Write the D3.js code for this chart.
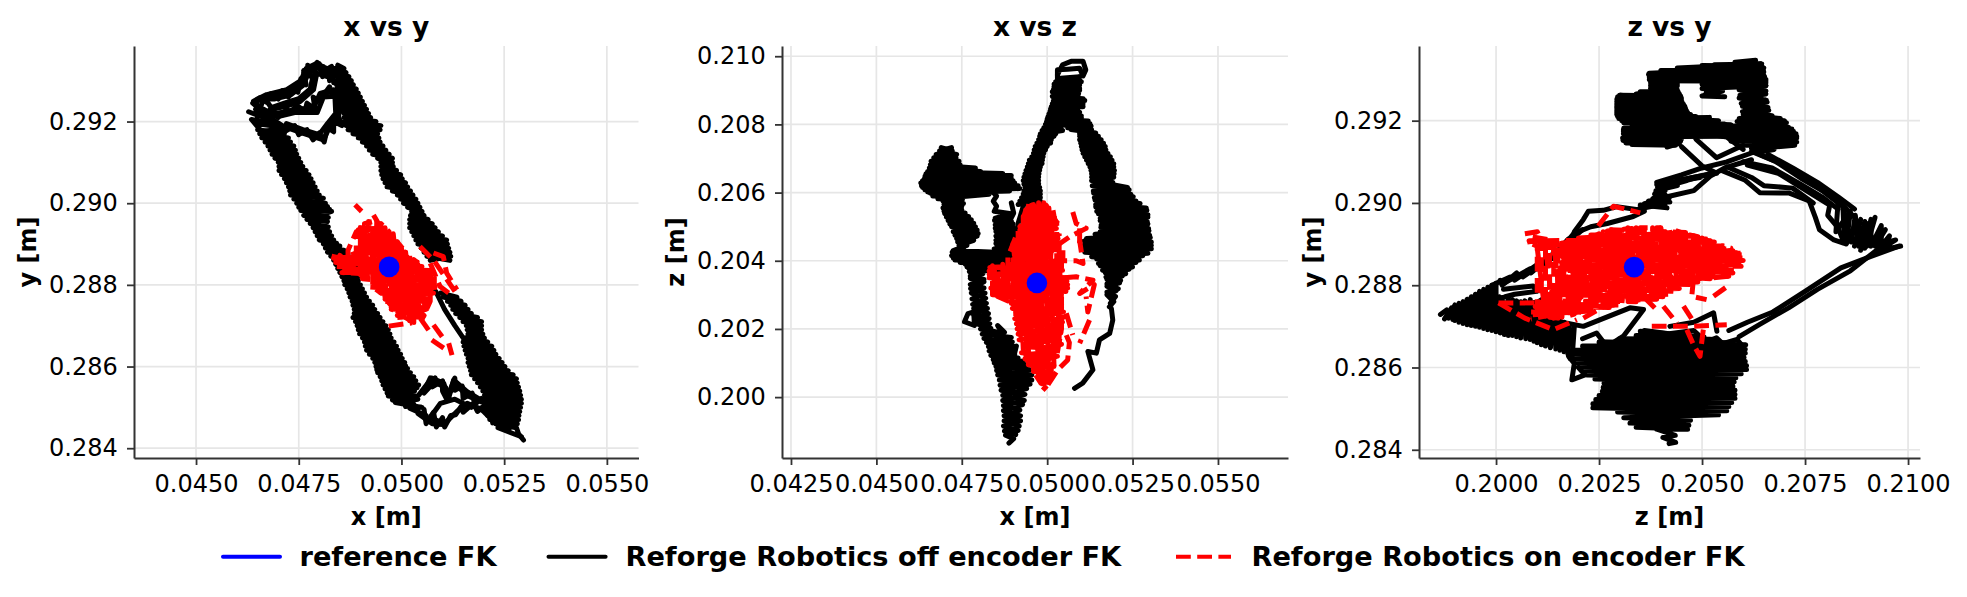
<!DOCTYPE html>
<html><head><meta charset="utf-8">
<script src="https://cdn.jsdelivr.net/npm/d3@7/dist/d3.min.js"></script>
<style>html,body{margin:0;padding:0;background:#fff}svg{display:block}text{font-family:"DejaVu Sans";fill:#000}</style>
</head><body><svg id="c" width="1967" height="597"></svg>
<script>
// Values. Trajectory pieces are in millimetres; axes show metres.
const xTicksA=[0.045,0.0475,0.05,0.0525,0.055];
const yTicksA=[0.284,0.286,0.288,0.29,0.292];
const xTicksB=[0.0425,0.045,0.0475,0.05,0.0525,0.055];
const yTicksB=[0.2,0.202,0.204,0.206,0.208,0.21];
const xTicksC=[0.2,0.2025,0.205,0.2075,0.21];
const yTicksC=[0.284,0.286,0.288,0.29,0.292];
const legendLabels=["reference FK","Reforge Robotics off encoder FK","Reforge Robotics on encoder FK"];
const refPoint=[49.7,288.44,203.35];

// x vs y, encoder off
const xyOff1=[[46.5,291.8],[47.15,291.7],[46.6,291.6],[47.3,291.5],[46.75,291.4],[47.42,291.3],[46.85,291.2],[47.5,291.1],[47,291],[47.6,290.9],[47.02,290.8],[47.75,290.7],[47.15,290.6],[47.85,290.5],[47.25,290.4],[47.95,290.3],[47.3,290.2],[48.1,290.12],[47.45,290],[48.2,289.92],[47.55,289.82],[48.3,289.8],[47.7,289.6],[48.2,289.55],[47.85,289.4],[48.25,289.3],[47.95,289.2],[48.35,289.1],[48.1,289],[48.5,288.95],[48.2,288.8],[48.7,288.75],[48.35,288.6],[48.85,288.55],[48.45,288.4],[48.95,288.3],[48.55,288.2],[48.95,288.1],[48.62,288],[49.05,287.9],[48.72,287.8],[49.15,287.7],[48.8,287.6],[49.3,287.5],[48.85,287.4],[49.42,287.3],[48.82,287.2],[49.55,287.1],[48.92,287],[49.68,286.9],[48.98,286.8],[49.75,286.7],[49.1,286.6],[49.88,286.5],[49.15,286.4],[49.98,286.3],[49.3,286.2],[50.08,286.1],[49.38,286],[50.15,285.95],[49.42,285.85],[50.3,285.75],[49.52,285.65],[50.42,285.55],[49.6,285.45],[50.32,285.4],[49.68,285.28],[50.4,285.2],[49.85,285.12],[50.5,285.0],[50.2,284.98],[50.6,284.8],[50.4,284.85],[50.75,284.6],[51,284.58]];
const xyOff1b=[[47.1,291.8],[46.55,291.7],[47.25,291.6],[46.68,291.5],[47.38,291.4],[46.8,291.3],[47.45,291.2],[46.92,291.1],[47.55,291],[47.02,290.9],[47.68,290.8],[47.08,290.7],[47.8,290.6],[47.2,290.5],[47.9,290.4],[47.28,290.3],[48,290.2],[47.38,290.1],[48.15,290],[47.5,289.9],[48.25,289.85],[47.62,289.7],[48.22,289.65],[47.78,289.5],[48.22,289.42],[47.9,289.3],[48.3,289.2],[48,289.1],[48.42,289.02],[48.15,288.9],[48.6,288.85],[48.28,288.7],[48.78,288.65],[48.4,288.5],[48.9,288.42],[48.5,288.3],[48.95,288.2],[48.6,288.1],[49,288],[48.68,287.9],[49.1,287.8],[48.75,287.7],[49.22,287.6],[48.82,287.5],[49.35,287.4],[48.85,287.3],[49.48,287.2],[48.88,287.1],[49.62,287],[48.95,286.9],[49.72,286.8],[49.05,286.7],[49.82,286.6],[49.12,286.5],[49.92,286.4],[49.22,286.3],[50.02,286.2],[49.35,286.1],[50.1,286.02],[49.4,285.92],[50.22,285.85],[49.48,285.75],[50.35,285.65],[49.55,285.55],[50.38,285.48],[49.65,285.35],[50.35,285.28],[49.78,285.18],[50.3,285.08],[50.1,285.02]];
const xyOff2=[[50.42,285.3],[50.74,285.72],[51.03,285.59],[51.15,285.23],[51.27,285.67],[51.59,285.39],[51.92,285.19],[51.7,285],[51.3,285.2],[50.95,285.1],[50.7,284.75],[51.05,284.6],[51.35,284.9],[51.6,285.1],[51.95,284.95],[52.3,284.6],[52.5,284.8]];
const xyOff2b=[[50.55,285.35],[50.8,285.62],[51.08,285.48],[51.12,285.3],[51.32,285.55],[51.62,285.28],[51.98,285.12],[52.1,285.3]];
const xyOff2c=[[50.55,284.95],[50.6,284.6],[50.78,284.88],[50.85,284.52],[51,284.75],[51.05,284.52],[51.2,284.8],[51.32,284.82],[51.45,285.02],[51.5,284.88],[51.75,285.1],[51.85,284.9],[52.02,285.02],[52.08,284.85],[52.2,284.8],[52.22,284.62],[52.4,284.75],[52.42,284.5],[52.6,284.68],[52.62,284.46]];
const xyOff2d=[[50.7,285.72],[50.58,285.45],[50.82,285.72],[50.75,285.5],[51,285.65],[51,285.4],[51.1,285.2],[51.3,285.72],[51.3,285.42],[51.48,285.52],[51.5,285.22],[51.72,285.35],[51.78,285.1],[51.95,285.22],[52.1,285.1],[52.05,285.35]];
const xyOff3=[[52.97,284.2],[52.85,284.35],[52.8,284.5],[52.3,284.6],[52.85,284.7],[52.1,284.8],[52.88,284.9],[51.95,285.0],[52.92,285.1],[52.05,285.2],[52.9,285.3],[51.98,285.4],[52.85,285.5],[51.85,285.6],[52.8,285.7],[51.7,285.8],[52.6,285.9],[51.65,286],[52.45,286.1],[51.62,286.2],[52.3,286.3],[51.55,286.4],[52.2,286.5],[51.5,286.6],[52.02,286.7],[51.62,286.8],[51.95,286.9],[51.58,287],[51.95,287.1],[51.42,287.2],[51.7,287.3],[51.25,287.4],[51.55,287.5],[51.12,287.6],[51.35,287.7],[50.95,287.8]];
const xyOff3b=[[52.92,284.28],[52.35,284.5],[52.82,284.6],[52.15,284.7],[52.86,284.8],[52.0,284.92],[52.9,285],[52.02,285.1],[52.92,285.2],[52.02,285.3],[52.88,285.4],[51.92,285.5],[52.82,285.6],[51.78,285.7],[52.72,285.8],[51.68,285.9],[52.52,286],[51.62,286.1],[52.38,286.2],[51.58,286.3],[52.25,286.4],[51.52,286.5],[52.1,286.6],[51.55,286.7],[51.98,286.8],[51.6,286.9],[51.95,287],[51.5,287.1],[51.85,287.2],[51.32,287.3],[51.62,287.4],[51.2,287.5],[51.45,287.6],[51.02,287.7]];
const xyOff4=[[50.83,287.85],[51.05,287.4],[51.3,287],[51.51,286.69],[51.75,286.2]];
const xyOff5=[[50.7,288.6],[51.2,288.7],[50.55,288.8],[51.15,288.9],[50.4,289],[51.1,289.1],[50.3,289.2],[50.9,289.3],[50.2,289.4],[50.75,289.5],[50.2,289.6],[50.55,289.7],[50.25,289.8],[50.45,289.9],[50.05,290],[50.35,290.1],[49.9,290.2],[50.22,290.3],[49.65,290.4],[50.1,290.5],[49.55,290.6],[49.98,290.7],[49.5,290.8],[49.8,290.9],[49.5,291],[49.78,291.1],[49.3,291.2],[49.62,291.3],[49.15,291.4],[49.48,291.5],[48.95,291.6],[49.42,291.7],[48.7,291.8],[49.5,291.9],[48.62,292],[49.25,292.1],[48.6,292.2],[49.15,292.3],[48.55,292.4],[49.05,292.5],[48.5,292.6],[48.95,292.7],[48.42,292.8],[48.83,292.9],[48.45,293],[48.72,293.1],[48.4,293.2],[48.6,293.3],[48.45,293.38]];
const xyOff5b=[[51.18,288.6],[50.62,288.7],[51.18,288.8],[50.48,288.9],[51.12,289],[50.35,289.1],[51,289.2],[50.25,289.3],[50.82,289.4],[50.2,289.5],[50.65,289.6],[50.22,289.7],[50.5,289.8],[50.15,289.9],[50.4,290],[49.98,290.1],[50.28,290.2],[49.78,290.3],[50.15,290.4],[49.6,290.5],[50.02,290.6],[49.52,290.7],[49.88,290.8],[49.5,290.9],[49.78,291],[49.42,291.1],[49.7,291.2],[49.22,291.3],[49.55,291.4],[49.05,291.5],[49.45,291.6],[48.82,291.7],[49.48,291.8],[48.65,291.9],[49.38,292],[48.6,292.1],[49.2,292.2],[48.58,292.3],[49.1,292.4],[48.52,292.5],[49,292.6],[48.45,292.7],[48.9,292.8],[48.42,292.9],[48.78,293],[48.42,293.1],[48.65,293.2],[48.42,293.3]];
const xyOff6=[[46.28,292.24],[46.9,292.0],[46.38,292.45],[47,292.1],[46.65,292.6],[46.45,291.95],[47.2,291.85],[46.6,291.75],[46.35,292.05],[46.8,291.95],[46.45,292.3],[46.75,292.2]];
const xyOff7=[[46.4,292.5],[46.72,292.66],[47.21,292.78],[47.55,293],[47.68,293.3],[47.93,293.42],[48.18,293.3],[48.42,293.3],[48.2,293.1],[48.1,293.35],[47.8,293.35],[47.58,292.95],[47.2,292.72],[46.8,292.6]];
const xyOff7b=[[46.5,292.55],[46.9,292.55],[47.3,292.65],[47.6,292.88],[47.72,293.15],[47.62,293.25],[47.85,293.28],[47.95,293.45],[48.05,293.2],[48.3,293.35],[48.35,292.95],[48.5,293.05]];
const xyOff7c=[[46.45,292.42],[46.55,292.58],[46.7,292.48],[46.82,292.68],[47,292.55],[47.1,292.76],[47.25,292.6],[47.35,292.85],[47.48,292.72],[47.55,293.05],[47.68,292.9],[47.62,293.2],[47.8,293.1],[47.72,293.38],[47.88,293.22],[48,293.42],[48.08,293.1],[48.22,293.28],[48.25,293],[48.42,293.2]];
const xyOff8=[[46.8,292.29],[47.2,292.38],[47.53,292.49],[47.86,292.78],[47.94,293.18],[48.2,293.1]];
const xyOff8b=[[46.85,292.35],[47.15,292.45],[47.5,292.56],[47.78,292.8],[47.85,293.12]];
const xyOff9=[[46.96,292.2],[47.45,292.3],[47.86,292.33],[48.02,292.69],[48.34,292.78],[48.51,292.53],[48.47,292.12],[48.26,291.88],[48.1,291.55],[47.61,291.71],[47.13,291.88],[46.88,292.04]];
const xyOff9b=[[47.0,292.12],[47.4,292.22],[47.95,292.22],[48.1,292.6],[48.38,292.62],[48.4,292.2],[48.2,291.95],[48.0,291.68],[47.6,291.8],[47.2,291.95]];
const xyOff9c=[[47,291.95],[47.15,291.75],[47.4,291.9],[47.5,291.68],[47.7,291.8],[47.85,291.55],[48,291.72],[48.12,291.5],[48.2,291.85],[48.35,291.75],[48.35,292.0],[48.55,291.9],[48.4,292.15],[48.58,292.3],[48.42,292.5],[48.6,292.6],[48.3,292.72],[48.5,292.78],[48.15,292.7],[48.25,292.85],[48,292.5],[47.85,292.6],[47.9,292.3],[47.7,292.45],[47.65,292.25],[47.45,292.4],[47.3,292.22],[47.15,292.35]];
const xyOff10=[[48.45,293.2],[48.55,292.8],[48.62,292.4],[48.42,292.2],[48.55,291.95],[48.75,291.98]];
const xyOff=[xyOff1,xyOff1b,xyOff2,xyOff2b,xyOff2c,xyOff2d,xyOff3,xyOff3b,xyOff4,xyOff5,xyOff5b,xyOff6,xyOff7,xyOff7b,xyOff7c,xyOff8,xyOff8b,xyOff9,xyOff9b,xyOff9c,xyOff10];

// x vs y, encoder on
const xyOn1=[[48.95,289.4],[49.56,289.35],[48.95,289.25],[49.75,289.2],[49.05,289.05],[49.9,289],[48.9,288.85],[50.1,288.8],[48.35,288.65],[50.3,288.6],[48.4,288.55],[50.5,288.45],[48.55,288.35],[50.7,288.3],[49.05,288.2],[50.8,288.15],[49.2,288],[50.82,287.95],[49.5,287.85],[50.78,287.8],[49.6,287.65],[50.45,287.6],[49.75,287.45],[50.6,287.4],[49.9,287.25],[50.55,287.2]];
const xyOn1b=[[49.56,289.4],[48.95,289.35],[49.75,289.25],[48.95,289.2],[49.9,289.05],[49.05,289],[50.1,288.85],[48.9,288.8],[50.3,288.65],[48.35,288.6],[50.5,288.55],[48.4,288.45],[50.7,288.35],[48.55,288.3],[50.8,288.2],[49.05,288.15],[50.82,288],[49.2,287.95],[50.78,287.85],[49.5,287.8],[50.45,287.65],[49.6,287.6],[50.6,287.45],[49.75,287.4],[50.55,287.25],[49.9,287.2]];
const xyOn2=[[48.4,288.55],[48.5,288.72],[48.8,288.45],[48.8,288.85],[49,288.3],[49,289.4],[49.15,288.1],[49.2,289.55],[49.35,288],[49.4,289.55],[49.6,287.7],[49.6,289.4],[49.8,287.5],[49.8,289.25],[50,287.3],[50,288.9],[50.2,287.12],[50.2,288.7],[50.4,287.1],[50.4,288.5],[50.6,287.3],[50.6,288.35],[50.8,287.85],[50.8,288.2]];
const xyOn2b=[[50.7,288.28],[50.7,287.6],[50.5,287.15],[50.5,288.45],[50.3,288.62],[50.3,287.08],[50.1,287.2],[50.1,288.8],[49.9,289.05],[49.9,287.35],[49.7,287.55],[49.7,289.3],[49.5,289.5],[49.5,287.8],[49.3,287.95],[49.3,289.55],[49.1,289.5],[49.1,288.15],[48.9,288.35],[48.9,289.3],[48.7,288.85],[48.7,288.5],[48.55,288.45],[48.55,288.75]];
const xyOn3=[[48.3,288.7],[49,288.55],[49.3,288.3],[49.1,289.3],[49.5,288.2],[49.7,289.2],[49.9,287.7],[50.1,288.8],[50.3,287.3],[50.5,288.3]];
const xyOn4=[[48.87,289.96],[49.03,289.8]];
const xyOn5=[[49.32,289.71],[49.48,289.43]];
const xyOn6=[[50.45,288.94],[50.78,288.61],[51.39,287.71]];
const xyOn7=[[50.78,288.78],[51.02,288.69],[51.1,288.29],[51.35,287.88]];
const xyOn8=[[50.7,288.53],[50.94,287.96],[51.27,287.71]];
const xyOn9=[[49.69,286.99],[50.26,287.07]];
const xyOn10=[[50.46,287.18],[50.66,286.89]];
const xyOn11=[[50.78,287.02],[50.99,286.73]];
const xyOn12=[[50.74,286.65],[51.03,286.45]];
const xyOn13=[[51.15,286.57],[51.23,286.28]];
const xyOn=[xyOn1,xyOn1b,xyOn2,xyOn2b,xyOn3,xyOn4,xyOn5,xyOn6,xyOn7,xyOn8,xyOn9,xyOn10,xyOn11,xyOn12,xyOn13];

// x vs z, encoder off
const xzOff1=[[50.3,209.45],[50.45,209.75],[50.7,209.85],[51.05,209.85],[51.13,209.6],[51.05,209.42],[50.95,209.65],[50.6,209.62],[50.3,209.6],[50.3,209.35],[50.95,209.4],[50.25,209.25],[51,209.25],[50.2,209.1],[50.95,209.05],[50.15,208.95],[50.9,208.85],[50.2,208.75],[51.1,208.7],[50.15,208.6],[51.05,208.6],[50.1,208.45],[50.9,208.4],[50.05,208.3],[51,208.25],[50,208.15],[51.2,208.1],[49.95,208],[51.28,207.95]];
const xzOff1b=[[50.95,209.3],[50.3,209.3],[50.95,209.15],[50.2,209.18],[50.95,209],[50.18,209.02],[50.92,208.9],[50.15,208.82],[51.05,208.75],[50.18,208.68],[51.05,208.52],[50.12,208.52],[50.95,208.35],[50.08,208.38],[51,208.18],[50.02,208.22],[51.25,208.02],[49.98,208.08]];
const xzOff2=[[49.9,207.9],[50.45,207.82],[49.8,207.72],[50.2,207.65],[49.75,207.55],[50.1,207.45],[49.65,207.35],[49.95,207.25],[49.6,207.15],[49.88,207.05],[49.48,206.95],[49.85,206.85],[49.42,206.75],[49.78,206.65],[49.35,206.55],[49.75,206.45],[49.3,206.35],[49.75,206.25],[49.35,206.15],[49.8,206.05],[49.3,205.95],[49.8,205.85],[49.2,205.75],[49.8,205.65]];
const xzOff2b=[[50.4,207.9],[49.85,207.82],[50.25,207.72],[49.78,207.65],[50.12,207.55],[49.7,207.45],[50,207.35],[49.62,207.25],[49.9,207.15],[49.55,207.05],[49.86,206.95],[49.45,206.85],[49.8,206.75],[49.38,206.65],[49.76,206.55],[49.32,206.45],[49.75,206.35],[49.32,206.25],[49.78,206.15],[49.32,206.05],[49.8,205.95],[49.25,205.85],[49.8,205.75],[49.15,205.65]];
const xzOff3=[[50.6,207.9],[51.3,207.85],[50.95,207.72],[51.5,207.65],[50.95,207.55],[51.65,207.45],[51,207.35],[51.72,207.25],[51.05,207.15],[51.85,207.05],[51.15,206.95],[51.95,206.85],[51.25,206.75],[51.97,206.65],[51.3,206.55],[51.95,206.45],[51.3,206.35],[52.35,206.15],[51.35,206.05],[52.45,205.95],[51.38,205.85],[52.6,205.75],[51.42,205.65],[52.9,205.55],[51.45,205.45],[52.95,205.35],[51.55,205.25],[52.93,205.15],[51.58,205.05],[52.97,204.95],[51.55,204.85],[53,204.75],[51.15,204.65],[53.05,204.55],[51.05,204.45],[53.05,204.35],[51.1,204.25],[52.8,204.15],[51.45,204.05],[52.6,203.95],[51.55,203.85],[52.4,203.75],[51.7,203.65],[52.2,203.55],[51.75,203.45],[52.12,203.35],[51.75,203.25],[52.02,203.12],[51.75,203],[51.95,202.8],[51.82,202.65]];
const xzOff3b=[[51.28,207.95],[50.7,207.85],[51.42,207.75],[50.95,207.65],[51.58,207.55],[50.98,207.45],[51.7,207.35],[51.02,207.25],[51.78,207.15],[51.1,207.05],[51.9,206.95],[51.2,206.85],[51.95,206.75],[51.28,206.65],[51.96,206.55],[51.3,206.45],[51.92,206.3],[51.32,206.2],[52.4,206.08],[51.36,205.98],[52.52,205.88],[51.4,205.78],[52.72,205.68],[51.42,205.58],[52.92,205.48],[51.5,205.38],[52.95,205.28],[51.55,205.18],[52.95,205.08],[51.57,204.98],[52.98,204.88],[51.4,204.78],[53.02,204.68],[51.08,204.58],[53.05,204.45],[51.05,204.35],[52.95,204.22],[51.3,204.12],[52.7,204.02],[51.5,203.92],[52.5,203.82],[51.62,203.72],[52.3,203.62],[51.72,203.52],[52.15,203.42],[51.75,203.32],[52.08,203.18],[51.75,203.08],[52,202.95],[51.85,202.75]];
const xzOff4=[[51.88,202.6],[51.92,202.26],[51.83,201.87],[51.53,201.68],[51.44,201.29],[51.19,201.34],[51.34,200.8],[51.04,200.41],[50.8,200.26]];
const xzOff5=[[46.9,207.32],[47.22,207.22],[46.75,207.12],[47.33,207.02],[46.6,206.92],[47.45,206.82],[46.55,206.72],[48.05,206.62],[46.45,206.55],[48.95,206.5],[46.4,206.4],[47.45,206.48],[46.3,206.28],[49.05,206.28],[46.35,206.15],[49.2,206.12],[46.5,206.02],[48.4,206.02],[46.65,205.9],[47.5,205.88],[46.95,205.75],[47.55,205.68],[46.95,205.55],[47.5,205.5],[47,205.38],[47.7,205.3],[47.1,205.18],[47.85,205.1],[47.2,205],[47.95,204.9],[47.3,204.75],[47.95,204.72],[47.38,204.55],[47.65,204.45],[47.25,204.3],[48.5,204.25],[47.2,204.15],[49.3,204.12],[47.3,204.02],[49.5,204],[47.6,203.9],[49.5,203.85],[47.7,203.78],[48.15,203.7],[47.75,203.55],[48.15,203.45],[47.75,203.3],[48.15,203.2],[47.78,203.05],[48.2,202.9],[47.82,202.72],[48.25,202.6],[47.85,202.42],[48.3,202.3],[47.95,202.15],[48.35,202.02],[48.1,201.85],[48.95,201.75],[48.22,201.6],[49,201.5],[48.3,201.35],[49.05,201.25],[48.42,201.1],[49.3,201.05],[48.5,200.9],[49.5,200.8],[48.55,200.65],[49.55,200.5],[48.62,200.35],[49.4,200.25],[48.7,200.05],[49.33,199.9],[48.72,199.75],[49.2,199.62],[48.74,199.45],[49.22,199.3],[48.72,199.15],[49.15,199.02],[48.78,198.88],[49.02,198.78],[48.88,198.65]];
const xzOff5b=[[47.2,207.32],[46.85,207.22],[47.35,207.12],[46.68,207.02],[47.42,206.92],[46.58,206.82],[47.9,206.72],[46.5,206.62],[48.7,206.56],[46.42,206.48],[48.95,206.42],[46.35,206.35],[49,206.35],[46.32,206.2],[49.15,206.2],[46.42,206.08],[48.9,206.05],[46.58,205.98],[48.3,205.95],[46.8,205.82],[47.52,205.8],[46.98,205.65],[47.5,205.6],[46.98,205.45],[47.6,205.4],[47.05,205.28],[47.78,205.2],[47.15,205.08],[47.9,205],[47.25,204.85],[47.98,204.8],[47.35,204.65],[47.85,204.6],[47.42,204.45],[47.55,204.38],[47.22,204.25],[49.05,204.18],[47.25,204.08],[49.45,204.06],[47.45,203.95],[49.5,203.92],[47.65,203.82],[49.4,203.78],[47.72,203.68],[48.12,203.62],[47.75,203.48],[48.15,203.38],[47.76,203.18],[48.18,203.05],[47.8,202.88],[48.22,202.75],[47.85,202.6],[48.28,202.45],[47.9,202.28],[48.32,202.15],[48.05,202],[48.6,201.9],[48.15,201.72],[48.98,201.62],[48.28,201.48],[49.02,201.38],[48.35,201.22],[49.15,201.15],[48.45,201],[49.4,200.95],[48.52,200.78],[49.55,200.65],[48.6,200.5],[49.5,200.38],[48.65,200.2],[49.35,200.08],[48.7,199.9],[49.28,199.78],[48.72,199.6],[49.22,199.45],[48.74,199.3],[49.18,199.15],[48.75,199],[49.08,198.9]];
const xzOff6=[[48.42,206],[48.52,205.9],[48.42,205.75],[48.52,205.6],[48.45,205.45],[48.95,205.38],[48.48,205.25],[48.95,205.15],[48.48,205.05],[49,204.95],[48.5,204.85],[49,204.75],[48.5,204.6],[49.02,204.5],[48.45,204.35],[49.02,204.25]];
const xzOff6b=[[48.95,205.7],[49.02,205.4],[48.92,205.2],[49.02,204.9],[48.9,204.7]];
const xzOff6c=[[48.95,205.3],[48.46,205.18],[49,205.08],[48.48,204.95],[49,204.85],[48.5,204.72],[49,204.62],[48.5,204.5],[49.02,204.4],[48.45,204.28]];
const xzOff7=[[47.58,202.21],[47.87,202.1],[47.85,202.5],[47.68,202.45],[47.58,202.21]];
const xzOff8=[[49.3,205.6],[49.15,205.1],[49.05,204.5],[49.3,204.3],[49.4,205.2]];
const xzOff9=[[48.75,201.9],[48.55,202.1],[48.75,201.75],[48.42,201.9],[48.9,201.6],[48.7,201.35],[49.1,201.5],[49,201.1]];
const xzOff=[xzOff1,xzOff1b,xzOff2,xzOff2b,xzOff3,xzOff3b,xzOff4,xzOff5,xzOff5b,xzOff6,xzOff6b,xzOff6c,xzOff7,xzOff8,xzOff9];

// x vs z, encoder on
const xzOn1=[[49.38,205.6],[50,205.55],[49.4,205.4],[50.1,205.35],[49.35,205.2],[50.2,205.15],[49.2,205],[50.27,204.95],[49.2,204.8],[50.32,204.75],[49.15,204.6],[50.3,204.55],[48.98,204.42],[50.26,204.35],[48.95,204.2],[50.26,204.15],[48.95,204],[50.4,203.9],[48.32,203.8],[50.45,203.72],[48.3,203.6],[50.55,203.5],[48.32,203.4],[50.6,203.3],[48.35,203.2],[50.55,203.1],[48.4,203],[50.3,202.9],[48.95,202.75],[50.4,202.65],[49,202.45],[50.5,202.35],[49.1,202.15],[50.36,202.02],[49.15,201.85],[50.45,201.72],[49.2,201.5],[50.4,201.4],[49.35,201.12],[50.25,201],[49.6,200.75],[50.1,200.7],[49.85,200.42],[50.05,200.4],[49.87,200.2]];
const xzOn1b=[[50,205.62],[49.38,205.5],[50.05,205.45],[49.38,205.3],[50.15,205.25],[49.3,205.1],[50.25,205.05],[49.2,204.9],[50.3,204.85],[49.18,204.7],[50.32,204.65],[49.05,204.5],[50.28,204.45],[48.95,204.3],[50.26,204.25],[48.95,204.1],[50.35,204],[48.95,203.9],[50.45,203.82],[48.3,203.7],[50.5,203.6],[48.3,203.5],[50.58,203.4],[48.34,203.3],[50.6,203.2],[48.38,203.1],[50.42,203],[48.6,202.95],[50.35,202.78],[48.98,202.6],[50.48,202.5],[49.05,202.3],[50.45,202.2],[49.12,202],[50.4,201.88],[49.18,201.68],[50.42,201.55],[49.25,201.3],[50.3,201.2],[49.45,200.95],[50.2,200.85],[49.72,200.6],[50.08,200.55]];
const xzOn2=[[48.4,202.98],[48.4,203.85],[48.7,202.92],[48.7,203.9],[49,202.72],[49,204.5],[49.15,202.1],[49.15,204.9],[49.3,201.4],[49.3,205.3],[49.45,201],[49.45,205.6],[49.6,200.75],[49.6,205.65],[49.75,200.5],[49.75,205.7],[49.9,200.3],[49.9,205.7],[50.05,200.5],[50.05,205.55],[50.2,200.9],[50.2,205.4],[50.35,201.6],[50.35,204.8]];
const xzOn2b=[[50.42,204.2],[50.42,202],[50.28,201.2],[50.28,205.1],[50.12,205.45],[50.12,200.7],[49.98,200.35],[49.98,205.62],[49.82,205.7],[49.82,200.4],[49.68,200.62],[49.68,205.68],[49.52,205.62],[49.52,200.85],[49.38,201.2],[49.38,205.5],[49.22,205],[49.22,201.8],[49.08,202.5],[49.08,204.7],[48.85,204.1],[48.85,202.82],[48.55,202.95],[48.55,203.88]];
const xzOn3=[[50.75,205.43],[50.85,205.09],[51.14,204.95],[50.65,204.7],[50.31,204.46]];
const xzOn4=[[50.95,204.95],[50.95,204.41]];
const xzOn5=[[50.17,205.48],[50.22,205.2],[50.4,205]];
const xzOn6=[[50.46,204.31],[50.46,204],[50.85,204],[51.05,203.92],[50.95,204.6]];
const xzOn7=[[50.5,203.5],[50.85,203.53],[51.34,203.43],[50.95,203.04],[51.38,203.3],[51.19,202.5],[51.14,202.95]];
const xzOn8=[[50.56,202.46],[50.75,201.82]];
const xzOn9=[[51.24,202.26],[50.95,201.58]];
const xzOn10=[[50.56,201.82],[50.65,201.6],[50.6,201.09],[50.31,200.8],[49.92,200.21]];
const xzOn=[xzOn1,xzOn1b,xzOn2,xzOn2b,xzOn3,xzOn4,xzOn5,xzOn6,xzOn7,xzOn8,xzOn9,xzOn10];

// z vs y, encoder off
const zyOff1=[[204.2,284.15],[204.36,284.18],[204.05,284.3],[204.35,284.35],[203.9,284.5],[204.65,284.5],[203.4,284.55],[204.68,284.6],[203.25,284.65],[204.72,284.72],[203.1,284.78],[205.4,284.85],[202.95,284.92],[205.6,284.95],[202.35,285.02],[205.65,285.05],[202.35,285.12],[205.72,285.15],[202.42,285.22],[205.8,285.25],[202.5,285.32],[205.8,285.35],[202.58,285.42],[205.8,285.45],[202.6,285.52],[205.75,285.55],[202.62,285.62],[205.78,285.65],[202.4,285.72],[205.82,285.75],[202.2,285.82],[205.95,285.85],[202.1,285.92],[206.08,285.95],[202.0,286.02],[206.08,286.05],[201.9,286.12],[206.05,286.15],[201.8,286.22],[206.02,286.25],[201.75,286.32],[206.05,286.35],[201.85,286.42],[206.05,286.45],[202.1,286.52],[206.06,286.55],[202.5,286.62],[205.6,286.6],[203,286.7],[205.3,286.68],[203.4,286.78],[205.05,286.74],[203.5,286.88],[203.75,286.8]];
const zyOff1b=[[203.6,286.9],[204.2,286.82],[204.8,286.9],[205.1,286.62],[205.35,286.72],[205.5,286.58],[205.85,286.68],[206,286.5]];
const zyOff2=[[198.65,287.29],[198.8,287.4],[198.85,287.2],[199,287.52],[199,287.14],[199.2,287.6],[199.2,287.07],[199.4,287.72],[199.4,287.02],[199.6,287.85],[199.6,286.98],[199.8,287.95],[199.8,286.92],[200,288.05],[200,286.87],[200.15,287.7],[200.2,286.8],[200.4,287.65],[200.4,286.78],[200.6,287.6],[200.6,286.72],[200.83,287.65],[200.83,286.68],[201,287.5],[201,286.6],[201.2,287.3],[201.2,286.52],[201.45,287.25],[201.45,286.45],[201.65,287.1],[201.65,286.38],[201.9,287],[201.85,286.28]];
const zyOff2b=[[198.75,287.18],[198.92,287.45],[198.95,287.17],[199.1,287.56],[199.1,287.1],[199.3,287.66],[199.3,287.04],[199.5,287.78],[199.5,287],[199.7,287.9],[199.7,286.95],[199.9,288],[199.9,286.9],[200.08,287.72],[200.1,286.84],[200.3,287.68],[200.3,286.78],[200.5,287.62],[200.5,286.75],[200.7,287.62],[200.72,286.7],[200.92,287.58],[200.92,286.64],[201.1,287.42],[201.1,286.55],[201.32,287.28],[201.32,286.48],[201.55,287.18],[201.55,286.42],[201.78,287.05],[201.75,286.32]];
const zyOff3=[[199.9,288.0],[200.34,288.2],[200.2,288.05],[200.83,288.4],[200.65,288.2],[201.23,288.6],[201,288.4],[201.63,288.95],[201.38,288.65],[201.88,289.25],[201.7,289.0],[202.1,289.35]];
const zyOff3b=[[200.1,288.12],[200.15,288.0],[200.5,288.3],[200.45,288.12],[201,288.5],[200.85,288.3],[201.4,288.78],[201.2,288.5],[201.75,289.12],[201.55,288.82]];
const zyOff4=[[201.9,289.3],[202.12,289.6],[202.24,289.8],[202.6,289.82],[202.93,289.91],[203.49,289.83],[203.7,289.95]];
const zyOff5=[[202.0,289.3],[202.3,289.42],[202.7,289.5],[203.33,289.67],[203.6,289.8]];
const zyOff6=[[203.45,289.85],[204.1,289.98],[203.6,289.98],[204.2,290.12],[203.8,290.1],[204.1,290.3],[203.88,290.3],[204.4,290.42],[203.9,290.45],[204.95,290.62],[204.4,290.55],[205.35,290.72]];
const zyOff6b=[[203.5,289.95],[204.15,289.88],[203.7,290.05],[204.22,290.02],[203.85,290.22],[204.15,290.15],[203.92,290.38],[204.65,290.55],[204.2,290.42],[205.15,290.7],[204.7,290.6]];
const zyOff7=[[204.15,290.15],[204.8,290.3],[205.2,290.65],[205.55,290.85],[206.2,291.05]];
const zyOff8=[[203.9,290.5],[204.5,290.68],[205,290.85],[205.6,291.0],[206.3,291.25]];
const zyOff9=[[205.3,293.36],[206.45,293.38],[204.4,293.28],[206.5,293.28],[203.72,293.15],[206.5,293.18],[203.72,293.05],[206.52,293.06],[203.75,292.97],[206.55,292.96],[205.0,292.88],[206.55,292.85],[205.0,292.78],[205.5,292.84],[205.1,292.68],[205.5,292.72],[205.0,292.6],[205.55,292.58]];
const zyOff9b=[[206.3,293.47],[205.8,293.42],[206.45,293.33],[205,293.34],[206.48,293.22],[204,293.22],[206.5,293.1],[203.7,293.12],[206.55,293.0],[203.72,293.0]];
const zyOff10=[[203.75,292.92],[204.4,292.9],[203.75,292.78],[204.4,292.75],[203.4,292.65],[204.45,292.65],[202.95,292.58],[204.5,292.55],[202.93,292.46],[204.52,292.45],[202.93,292.35],[204.58,292.35],[202.93,292.25],[204.62,292.25],[202.93,292.15],[204.72,292.15],[202.98,292.05],[205.18,292.08],[203.1,291.95],[205.55,291.92],[203.6,291.86],[207,291.88],[203.09,291.78],[207.18,291.8],[203.09,291.68],[207.28,291.68],[203.07,291.58],[204.5,291.55],[203.15,291.46],[204.45,291.45],[204.15,291.36]];
const zyOff10b=[[204.4,292.85],[203.75,292.85],[204.42,292.7],[203.5,292.7],[204.48,292.6],[203,292.62],[204.5,292.5],[202.93,292.52],[204.55,292.4],[202.93,292.4],[204.6,292.3],[202.93,292.3],[204.65,292.2],[202.93,292.2],[204.85,292.1],[202.95,292.1],[205.4,292],[203.05,292],[205.7,291.9],[203.3,291.9],[207.1,291.84],[203.1,291.82],[207.22,291.74],[203.09,291.74],[207.3,291.62],[204.5,291.62],[203.08,291.52],[204.48,291.5],[203.3,291.42],[204.35,291.4]];
const zyOff11=[[205.9,292.95],[206.55,292.85],[205.9,292.75],[206.55,292.65],[205.9,292.55],[206.58,292.45],[205.98,292.35],[206.62,292.25],[206.0,292.15],[206.9,292.05],[205.85,291.98],[207.05,291.95]];
const zyOff11b=[[206.55,292.92],[205.92,292.82],[206.55,292.72],[205.92,292.62],[206.56,292.5],[205.95,292.42],[206.6,292.32],[205.98,292.22],[206.7,292.12],[205.9,292.05],[207,292]];
const zyOff12=[[205.5,291.62],[207.3,291.58],[205.7,291.5],[207.3,291.48],[206,291.4],[207.25,291.4],[206.2,291.32],[206.75,291.3],[206.3,291.22]];
const zyOff13=[[204.5,291.37],[205,290.9],[205.3,290.75]];
const zyOff14=[[204.85,291.55],[205.35,291.1],[206,291.4]];
const zyOff15=[[205,291.7],[205.6,291.6],[206,291.3]];
const zyOff16=[[206.2,291.25],[206.8,291],[207.4,290.6],[208,290.25],[208.4,289.95],[208.7,289.65]];
const zyOff16b=[[206.4,291.18],[207,290.92],[207.6,290.55],[208.15,290.12],[208.5,289.85]];
const zyOff16c=[[206.6,291.18],[207.2,290.85],[207.8,290.5],[208.3,290.15],[208.7,289.85]];
const zyOff17=[[206,291],[206.7,290.85],[207.4,290.45],[207.95,290.12],[208.3,289.85]];
const zyOff17b=[[206.1,290.92],[206.85,290.72],[207.5,290.32],[208.05,289.98]];
const zyOff18=[[205.5,290.78],[206.05,290.55],[206.4,290.25],[207.12,290.24],[207.6,290.05]];
const zyOff19=[[205.6,290.88],[206.2,290.62],[206.5,290.42],[207.2,290.36],[207.7,290]];
const zyOff20=[[207.6,290.05],[207.75,289.65],[207.85,289.35],[208.2,289.1],[208.45,289.02],[208.3,289.4],[208.05,289.7],[208.1,289.95]];
const zyOff21=[[208.3,290],[208.25,289.3],[208.6,289.8],[208.5,289],[208.85,289.6],[208.7,288.95],[209,289.5],[208.85,288.85],[209.2,289.65],[209,288.95],[209.45,289.35],[209.2,288.95],[209.7,289.1],[209.3,288.85],[209.82,288.95],[209.5,288.88]];
const zyOff21b=[[208.45,289.15],[208.42,289.9],[208.62,289.05],[208.72,289.7],[208.8,288.95],[208.95,289.55],[208.95,288.9],[209.1,289.6],[209.1,288.95],[209.35,289.45],[209.35,288.95],[209.55,289.2],[209.45,288.9]];
const zyOff22=[[209.78,288.95],[209.1,288.7],[208.37,288.42],[207.5,287.85],[206.72,287.35],[206.1,287.1],[205.65,286.9]];
const zyOff23=[[209.3,288.9],[208.6,288.35],[207.8,287.9],[207.1,287.45],[206.4,287.05],[205.9,286.75]];
const zyOff24=[[200.18,287.9],[200.9,287.98],[200.99,287.85],[200.45,287.78],[200.22,287.72]];
const zyOff25=[[200.95,287.55],[201.23,287.73],[201.55,287.9]];
const zyOff26=[[201.1,287.0],[201.6,287.1],[202.12,287],[203.25,287.45],[203.58,287.41],[203.09,286.76],[202.69,286.51],[202.44,286.84],[202.1,286.7]];
const zyOff27=[[204.22,287],[204.8,287.1],[205.28,287.33],[205.36,286.88]];
const zyOff28=[[201.76,286.27],[201.9,286.1],[201.84,285.7],[202.16,285.82],[202,286]];
const zyOff=[zyOff1,zyOff1b,zyOff2,zyOff2b,zyOff3,zyOff3b,zyOff4,zyOff5,zyOff6,zyOff6b,zyOff7,zyOff8,zyOff9,zyOff9b,zyOff10,zyOff10b,zyOff11,zyOff11b,zyOff12,zyOff13,zyOff14,zyOff15,zyOff16,zyOff16b,zyOff16c,zyOff17,zyOff17b,zyOff18,zyOff19,zyOff20,zyOff21,zyOff21b,zyOff22,zyOff23,zyOff24,zyOff25,zyOff26,zyOff27,zyOff28];

// z vs y, encoder on
const zyOn1=[[202.75,289.35],[204.6,289.28],[202,289.15],[205.2,289.12],[200.8,289.08],[201.5,289],[201,288.92],[205.6,288.88],[201.4,288.8],[205.95,288.78],[201.6,288.7],[206,288.66],[201.6,288.55],[206,288.5],[201.55,288.42],[205.85,288.36],[201.5,288.28],[205.65,288.22],[201.5,288.14],[204.9,288.08],[201.5,288],[204.45,287.92],[201.35,287.85],[204.2,287.78],[201.15,287.7],[203.9,287.66],[201,287.55],[203,287.52],[200.9,287.42],[202.4,287.38],[200.82,287.28],[201.9,287.4],[200.85,287.18]];
const zyOn1b=[[204.5,289.2],[202.3,289.22],[205.3,289.05],[201.9,289.05],[205.5,288.95],[201.15,288.98],[205.75,288.84],[201.3,288.85],[206,288.72],[201.55,288.74],[206,288.6],[201.58,288.62],[205.95,288.46],[201.52,288.48],[205.75,288.3],[201.5,288.34],[205.2,288.16],[201.5,288.2],[204.7,288.02],[201.5,288.06],[204.35,287.85],[201.42,287.92],[204.05,287.72],[201.25,287.78],[203.4,287.6],[201.08,287.62],[202.75,287.46],[200.95,287.48],[202.1,287.34],[200.85,287.35]];
const zyOn2=[[201,287.3],[201,288.9],[201.2,287.25],[201.2,288.95],[201.4,287.2],[201.4,289.0],[201.6,287.22],[201.6,289.02],[201.8,287.25],[201.8,289.05],[202,287.35],[202,289.1],[202.2,287.45],[202.2,289.1],[202.4,287.5],[202.4,289.2],[202.6,287.55],[202.6,289.3],[202.8,287.6],[202.8,289.35],[203,287.65],[203,289.35],[203.2,287.68],[203.2,289.4],[203.4,287.7],[203.4,289.4],[203.6,287.72],[203.6,289.4],[203.8,287.75],[203.8,289.4],[204,287.85],[204,289.4],[204.2,287.95],[204.2,289.4],[204.4,288.05],[204.4,289.3],[204.6,288.1],[204.6,289.25],[204.8,288.18],[204.8,289.2],[205,288.25],[205,289.15],[205.2,288.32],[205.2,289.08],[205.4,288.4],[205.4,289],[205.6,288.48],[205.6,288.92],[205.8,288.55],[205.8,288.85]];
const zyOn2b=[[205.9,288.8],[205.9,288.55],[205.7,288.5],[205.7,288.9],[205.5,288.96],[205.5,288.44],[205.3,288.36],[205.3,289.04],[205.1,289.1],[205.1,288.28],[204.9,288.2],[204.9,289.18],[204.7,289.22],[204.7,288.14],[204.5,288.06],[204.5,289.28],[204.3,289.35],[204.3,287.98],[204.1,287.9],[204.1,289.4],[203.9,289.4],[203.9,287.78],[203.7,287.74],[203.7,289.4],[203.5,289.4],[203.5,287.7],[203.3,287.7],[203.3,289.38],[203.1,289.36],[203.1,287.66],[202.9,287.62],[202.9,289.34],[202.7,289.32],[202.7,287.58],[202.5,287.52],[202.5,289.25],[202.3,289.15],[202.3,287.48],[202.1,287.4],[202.1,289.1],[201.9,289.08],[201.9,287.3],[201.7,287.24],[201.7,289.04],[201.5,289],[201.5,287.2],[201.3,287.22],[201.3,288.98],[201.1,288.95],[201.1,287.28]];
const zyOn3=[[200.7,289.25],[201,289.3],[201.1,289.1],[200.75,289.05],[201,288.95],[201.3,289.1],[200.85,289.18]];
const zyOn4=[[200.06,287.57],[200.99,287.57]];
const zyOn5=[[200.06,287.57],[200.7,287.2],[201.39,286.92],[201.96,287.16]];
const zyOn6=[[202.12,287.2],[202.69,287.53]];
const zyOn7=[[204.79,288.14],[204.75,287.73],[205.11,287.65]];
const zyOn8=[[205.28,288.18],[205.64,288.22]];
const zyOn9=[[205.28,287.73],[205.68,288.02]];
const zyOn10=[[204.06,287.49],[204.39,287.08]];
const zyOn11=[[204.55,287.49],[204.79,287.12]];
const zyOn12=[[203.78,287],[204.7,287],[205.6,287.04]];
const zyOn13=[[204.63,286.92],[204.79,286.56],[204.95,286.27],[205.03,286.92]];
const zyOn14=[[202.48,289.44],[202.85,289.92],[203.5,289.76]];
const zyOn15=[[203.6,287.7],[203.9,287.4]];
const zyOn=[zyOn1,zyOn1b,zyOn2,zyOn2b,zyOn3,zyOn4,zyOn5,zyOn6,zyOn7,zyOn8,zyOn9,zyOn10,zyOn11,zyOn12,zyOn13,zyOn14,zyOn15];

const panels=[
 {title:"x vs y",xl:"x [m]",yl:"y [m]",L:134,R:638.5,xd:[0.04349,0.05577],yd:[0.28376,0.29385],xt:xTicksA,yt:yTicksA,off:xyOff,on:xyOn,ref:[refPoint[0],refPoint[1]]},
 {title:"x vs z",xl:"x [m]",yl:"z [m]",L:782,R:1288,xd:[0.042237,0.05705],yd:[0.198214,0.2103],xt:xTicksB,yt:yTicksB,off:xzOff,on:xzOn,ref:[refPoint[0],refPoint[2]]},
 {title:"z vs y",xl:"z [m]",yl:"y [m]",L:1419,R:1920,xd:[0.19813,0.21029],yd:[0.2838,0.293815],xt:xTicksC,yt:yTicksC,off:zyOff,on:zyOn,ref:[refPoint[2],refPoint[1]]}
];
const T=46,B=458;
const svg=d3.select("#c");
panels.forEach(p=>{
  const x=d3.scaleLinear().domain(p.xd).range([p.L,p.R]);
  const y=d3.scaleLinear().domain(p.yd).range([B,T]);
  const g=svg.append("g");
  g.selectAll(".gx").data(p.xt).join("line").attr("x1",d=>x(d)).attr("x2",d=>x(d)).attr("y1",T).attr("y2",B).attr("stroke","#e6e6e6").attr("stroke-width",1.7);
  g.selectAll(".gy").data(p.yt).join("line").attr("y1",d=>y(d)).attr("y2",d=>y(d)).attr("x1",p.L).attr("x2",p.R).attr("stroke","#e6e6e6").attr("stroke-width",1.7);
  const line=d3.line().x(d=>x(d[0]/1000)).y(d=>y(d[1]/1000));
  g.selectAll(".off").data(p.off).join("path").attr("d",line).attr("fill","none").attr("stroke","#000").attr("stroke-width",5).attr("stroke-linejoin","round").attr("stroke-linecap","round");
  g.selectAll(".on").data(p.on).join("path").attr("d",line).attr("fill","none").attr("stroke","#f00").attr("stroke-width",5).attr("stroke-dasharray","14.8 6.4").attr("stroke-linejoin","round");
  g.append("circle").attr("cx",x(p.ref[0]/1000)).attr("cy",y(p.ref[1]/1000)).attr("r",10.3).attr("fill","#00f");
  const ax=g.append("g").attr("transform",`translate(0,${B})`).call(d3.axisBottom(x).tickValues(p.xt).tickFormat(d3.format(".4f")).tickSize(7).tickSizeOuter(0).tickPadding(9.7));
  const ay=g.append("g").attr("transform",`translate(${p.L},0)`).call(d3.axisLeft(y).tickValues(p.yt).tickFormat(d3.format(".3f")).tickSize(7).tickSizeOuter(0).tickPadding(9.3));
  [ax,ay].forEach(a=>{
    a.attr("font-family",null).attr("font-size",null);
    a.select(".domain").attr("stroke","#333").attr("stroke-width",2);
    a.selectAll(".tick line").attr("stroke","#333").attr("stroke-width",1.8);
    a.selectAll("text").style("font-size","24px").style("font-family","DejaVu Sans").style("fill","#000");
  });
  const cx=(p.L+p.R)/2;
  g.append("text").attr("x",cx).attr("y",36).attr("text-anchor","middle").style("font-size","26.5px").style("font-weight","bold").text(p.title);
  g.append("text").attr("x",cx).attr("y",525).attr("text-anchor","middle").style("font-size","24px").style("font-weight","bold").text(p.xl);
  g.append("text").attr("transform",`translate(${p.L-98},252) rotate(-90)`).attr("text-anchor","middle").style("font-size","24px").style("font-weight","bold").text(p.yl);
});
const legendX=[[223,280,299.5],[548.5,605.6,625.5],[1176,1231,1251.5]];
const legendStyle=[["#00f",null],["#000",null],["#f00","14.8 6.4"]];
legendLabels.forEach((t,i)=>{
  svg.append("line").attr("x1",legendX[i][0]).attr("x2",legendX[i][1]).attr("y1",556.7).attr("y2",556.7).attr("stroke",legendStyle[i][0]).attr("stroke-width",4).attr("stroke-dasharray",legendStyle[i][1]).attr("stroke-linecap",legendStyle[i][1]?"butt":"round");
  svg.append("text").attr("x",legendX[i][2]).attr("y",566).style("font-size","27.2px").style("font-weight","bold").text(t);
});
</script></body></html>
